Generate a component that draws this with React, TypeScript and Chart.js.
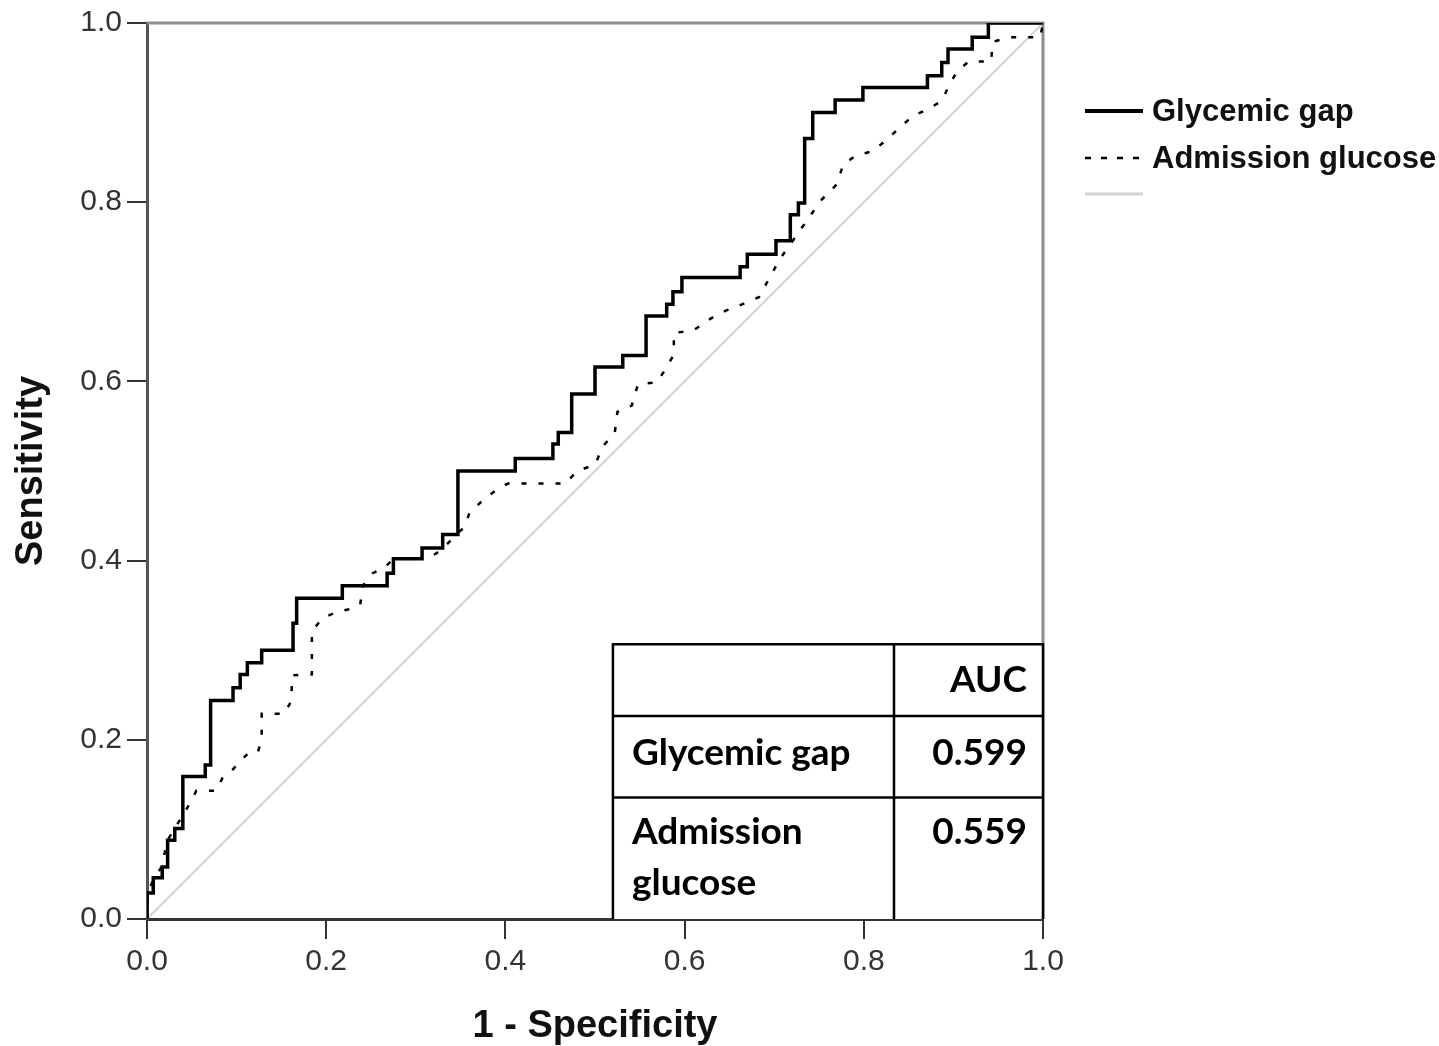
import React, { useEffect, useRef } from "react";
import { Chart, registerables } from "chart.js";

Chart.register(...registerables);

// ROC step risers for Glycemic gap: (1 - specificity, sensitivity)
const glycFpr = [0, 0, 0.007, 0.017, 0.023, 0.031, 0.040, 0.065, 0.071, 0.096, 0.104, 0.112, 0.128, 0.163, 0.167, 0.218, 0.268, 0.275, 0.307, 0.330, 0.347, 0.411, 0.453, 0.459, 0.474, 0.500, 0.531, 0.557, 0.580, 0.587, 0.597, 0.662, 0.670, 0.702, 0.718, 0.727, 0.734, 0.743, 0.768, 0.799, 0.871, 0.887, 0.894, 0.921, 0.939, 1.0];
const glycTpr = [0, 0.029, 0.046, 0.058, 0.088, 0.101, 0.159, 0.172, 0.244, 0.258, 0.273, 0.286, 0.300, 0.330, 0.358, 0.372, 0.386, 0.402, 0.414, 0.429, 0.500, 0.514, 0.530, 0.543, 0.586, 0.616, 0.629, 0.673, 0.686, 0.700, 0.716, 0.728, 0.742, 0.757, 0.786, 0.799, 0.871, 0.900, 0.914, 0.928, 0.941, 0.956, 0.971, 0.984, 1.0, 1.0];

// ROC path for Admission glucose
const admFpr = [0, 0, 0.007, 0.016, 0.023, 0.031, 0.040, 0.048, 0.055, 0.077, 0.084, 0.095, 0.105, 0.115, 0.124, 0.128, 0.128, 0.153, 0.161, 0.162, 0.184, 0.184, 0.196, 0.213, 0.227, 0.238, 0.241, 0.252, 0.266, 0.275, 0.313, 0.329, 0.346, 0.355, 0.360, 0.377, 0.394, 0.403, 0.467, 0.480, 0.500, 0.509, 0.522, 0.525, 0.541, 0.548, 0.569, 0.579, 0.588, 0.588, 0.610, 0.629, 0.646, 0.664, 0.683, 0.695, 0.706, 0.753, 0.770, 0.777, 0.791, 0.810, 0.827, 0.843, 0.856, 0.872, 0.887, 0.895, 0.904, 0.917, 0.942, 0.944, 0.962, 0.997, 1.0];
const admTpr = [0, 0.029, 0.043, 0.058, 0.088, 0.101, 0.116, 0.129, 0.143, 0.143, 0.157, 0.166, 0.177, 0.187, 0.187, 0.201, 0.229, 0.229, 0.243, 0.272, 0.273, 0.321, 0.336, 0.343, 0.346, 0.351, 0.372, 0.386, 0.393, 0.402, 0.402, 0.412, 0.430, 0.438, 0.454, 0.469, 0.482, 0.486, 0.486, 0.500, 0.507, 0.528, 0.542, 0.566, 0.573, 0.597, 0.599, 0.614, 0.630, 0.654, 0.657, 0.670, 0.679, 0.686, 0.694, 0.716, 0.736, 0.803, 0.820, 0.842, 0.852, 0.857, 0.871, 0.886, 0.897, 0.904, 0.913, 0.930, 0.946, 0.957, 0.957, 0.979, 0.984, 0.984, 1.0];

// Reference line
const refX = [0, 1];
const refY = [0, 1];

const seriesNames = ["Glycemic gap", "Admission glucose"];
const aucHeader = "AUC";
const aucValues = ["0.599", "0.559"];
const tickValues = [0, 0.2, 0.4, 0.6, 0.8, 1.0];
const xTitle = "1 - Specificity";
const yTitle = "Sensitivity";

const toPts = (xs: number[], ys: number[]) => xs.map((x, i) => ({ x, y: ys[i] }));

const overlayPlugin = {
  id: "overlay",
  beforeDatasetsDraw(chart: any) {
    const { ctx, chartArea } = chart;
    ctx.save();
    ctx.strokeStyle = "#8c8c8c";
    ctx.lineWidth = 3;
    ctx.beginPath();
    ctx.moveTo(chartArea.left, chartArea.top);
    ctx.lineTo(chartArea.right, chartArea.top);
    ctx.lineTo(chartArea.right, chartArea.bottom);
    ctx.stroke();
    ctx.restore();
  },
  afterDraw(chart: any) {
    const { ctx, chartArea } = chart;
    ctx.save();
    // Legend
    const lx0 = chartArea.right + 42;
    const lx1 = chartArea.right + 100;
    const tx = chartArea.right + 109;
    const rows = [chartArea.top + 88, chartArea.top + 135, chartArea.top + 171];
    ctx.lineWidth = 4;
    ctx.strokeStyle = "#000";
    ctx.beginPath();
    ctx.moveTo(lx0, rows[0]);
    ctx.lineTo(lx1, rows[0]);
    ctx.stroke();
    ctx.lineWidth = 2.5;
    ctx.setLineDash([6, 10]);
    ctx.beginPath();
    ctx.moveTo(lx0, rows[1]);
    ctx.lineTo(lx1, rows[1]);
    ctx.stroke();
    ctx.setLineDash([]);
    ctx.strokeStyle = "#d4d4d4";
    ctx.lineWidth = 3;
    ctx.beginPath();
    ctx.moveTo(lx0, rows[2]);
    ctx.lineTo(lx1, rows[2]);
    ctx.stroke();
    ctx.fillStyle = "#111";
    ctx.font = "bold 31px 'Liberation Sans', Arial, sans-serif";
    ctx.textBaseline = "middle";
    ctx.textAlign = "left";
    ctx.fillText(seriesNames[0], tx, rows[0] + 1);
    ctx.fillText(seriesNames[1], tx, rows[1] + 1);

    // AUC table
    const xs = chart.scales.x;
    const ys = chart.scales.y;
    const left = xs.getPixelForValue(0.52);
    const right = chartArea.right;
    const mid = xs.getPixelForValue(0.8337);
    const top = ys.getPixelForValue(0.3067);
    const r1 = ys.getPixelForValue(0.2267);
    const r2 = ys.getPixelForValue(0.1356);
    const bottom = chartArea.bottom;
    ctx.fillStyle = "#fff";
    ctx.fillRect(left, top, right - left, bottom - top);
    ctx.strokeStyle = "#000";
    ctx.lineWidth = 2.5;
    ctx.beginPath();
    ctx.moveTo(left, bottom);
    ctx.lineTo(left, top);
    ctx.lineTo(right, top);
    ctx.lineTo(right, bottom);
    ctx.moveTo(mid, top);
    ctx.lineTo(mid, bottom);
    ctx.moveTo(left, r1);
    ctx.lineTo(right, r1);
    ctx.moveTo(left, r2);
    ctx.lineTo(right, r2);
    ctx.stroke();
    ctx.fillStyle = "#000";
    ctx.font = "bold 37px Lato, 'Open Sans', sans-serif";
    ctx.textBaseline = "middle";
    ctx.textAlign = "right";
    const vr = right - 16;
    ctx.fillText(aucHeader, vr, top + 36);
    ctx.fillText(aucValues[0], vr, r1 + 37);
    ctx.fillText(aucValues[1], vr, r2 + 35);
    ctx.textAlign = "left";
    const tl = left + 19;
    ctx.fillText(seriesNames[0], tl, r1 + 37);
    ctx.fillText("Admission", tl, r2 + 35);
    ctx.fillText("glucose", tl, r2 + 86);
    ctx.restore();
  },
};

export default function App() {
  const ref = useRef<HTMLCanvasElement | null>(null);
  useEffect(() => {
    if (!ref.current) return;
    Chart.defaults.font.family = "'Liberation Sans', Arial, sans-serif";
    const chart = new Chart(ref.current, {
      type: "line",
      data: {
        datasets: [
          {
            label: seriesNames[0],
            data: toPts(glycFpr, glycTpr),
            borderColor: "#000",
            borderWidth: 3.5,
            pointRadius: 0,
            stepped: "before",
            fill: false,
          },
          {
            label: seriesNames[1],
            data: toPts(admFpr, admTpr),
            borderColor: "#000",
            borderWidth: 2.5,
            borderDash: [5, 12],
            pointRadius: 0,
            tension: 0,
            fill: false,
          },
          {
            label: "",
            data: toPts(refX, refY),
            borderColor: "#d4d4d4",
            borderWidth: 2,
            pointRadius: 0,
            fill: false,
          },
        ],
      },
      options: {
        animation: false,
        responsive: false,
        parsing: false as any,
        layout: { padding: { left: 0, top: 19, right: 396, bottom: 0 } },
        plugins: { legend: { display: false }, tooltip: { enabled: false } },
        scales: {
          x: {
            type: "linear",
            min: 0,
            max: 1,
            afterBuildTicks: (s: any) => {
              s.ticks = tickValues.map((v) => ({ value: v }));
            },
            afterFit: (s: any) => {
              s.height = 127;
            },
            ticks: {
              padding: 5,
              color: "#333",
              font: { size: 30 },
              callback: (v: any) => Number(v).toFixed(1),
            },
            grid: { drawOnChartArea: false, drawTicks: true, tickLength: 20, color: "#333", lineWidth: 2 },
            border: { display: true, color: "#333", width: 3 },
            title: {
              display: true,
              text: xTitle,
              color: "#111",
              font: { size: 38, weight: "bold", lineHeight: 1 },
              padding: { top: 0, bottom: 0 },
            },
          },
          y: {
            type: "linear",
            min: 0,
            max: 1,
            afterBuildTicks: (s: any) => {
              s.ticks = tickValues.map((v) => ({ value: v }));
            },
            afterFit: (s: any) => {
              s.width = 147;
            },
            ticks: {
              padding: 5,
              color: "#333",
              font: { size: 30 },
              callback: (v: any) => Number(v).toFixed(1),
            },
            grid: { drawOnChartArea: false, drawTicks: true, tickLength: 20, color: "#333", lineWidth: 2 },
            border: { display: true, color: "#555", width: 3 },
            title: {
              display: true,
              text: yTitle,
              color: "#111",
              font: { size: 38, weight: "bold", lineHeight: 1 },
              padding: { top: 13, bottom: 0 },
            },
          },
        },
      },
      plugins: [overlayPlugin],
    });
    return () => chart.destroy();
  }, []);
  return (
    <div style={{ position: "fixed", left: 0, top: 0, width: 1439, height: 1046, background: "#fff" }}>
      <canvas ref={ref} width={1439} height={1046} style={{ display: "block" }} />
    </div>
  );
}
